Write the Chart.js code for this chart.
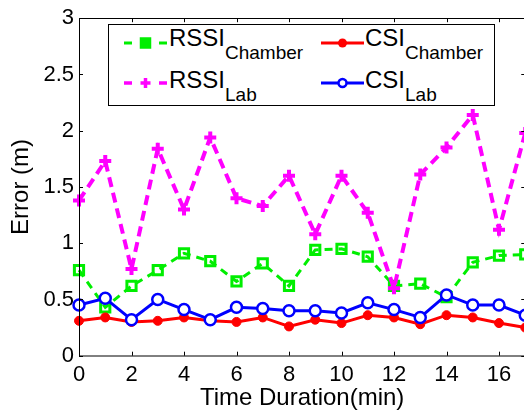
<!DOCTYPE html>
<html><head><meta charset="utf-8">
<script src="https://cdn.jsdelivr.net/npm/chart.js@4.4.1/dist/chart.umd.min.js"></script>
<style>
html,body{margin:0;padding:0;overflow:hidden;background:#fff;}
#wrap{position:relative;width:524px;height:416px;overflow:hidden;background:#fff;}
#c{position:absolute;left:0;top:0;}
#legend{position:absolute;left:108px;top:24px;width:387px;height:82px;box-sizing:border-box;border:1px solid #000;background:#fff;font-family:"Liberation Sans",Arial,sans-serif;color:#000;}
#legend svg{position:absolute;overflow:visible;}
.lab{position:absolute;font-size:24px;line-height:24px;white-space:nowrap;}
.lab sub{font-size:19px;vertical-align:baseline;position:relative;top:13px;}
</style>
</head><body>
<div id="wrap">
<canvas id="c" width="540" height="416" style="width:540px;height:416px"></canvas>
<div id="legend">
  <svg style="left:15px;top:10px" width="43" height="16">
    <line x1="0" y1="8" x2="8" y2="8" stroke="#00ee00" stroke-width="3"/>
    <line x1="35" y1="8" x2="43" y2="8" stroke="#00ee00" stroke-width="3"/>
    <rect x="17" y="3.5" width="9" height="9" fill="#00ee00" stroke="#00ee00" stroke-width="2.5"/>
  </svg>
  <div class="lab" style="left:60px;top:1px">RSSI<sub>Chamber</sub></div>
  <svg style="left:15px;top:50px" width="43" height="16">
    <line x1="0" y1="8" x2="8" y2="8" stroke="#ff00ff" stroke-width="3.5"/>
    <line x1="35" y1="8" x2="43" y2="8" stroke="#ff00ff" stroke-width="3.5"/>
    <line x1="16.5" y1="8" x2="26.5" y2="8" stroke="#ff00ff" stroke-width="3.5"/>
    <line x1="21.5" y1="3" x2="21.5" y2="13" stroke="#ff00ff" stroke-width="3.5"/>
  </svg>
  <div class="lab" style="left:60px;top:43px">RSSI<sub>Lab</sub></div>
  <svg style="left:212px;top:10px" width="43" height="16">
    <line x1="0" y1="8" x2="43" y2="8" stroke="#ff0000" stroke-width="3"/>
    <circle cx="21.5" cy="8" r="4.5" fill="#ff0000"/>
  </svg>
  <div class="lab" style="left:256px;top:1px">CSI<sub>Chamber</sub></div>
  <svg style="left:212px;top:50px" width="43" height="16">
    <line x1="0" y1="8" x2="43" y2="8" stroke="#0000ff" stroke-width="3"/>
    <circle cx="21.5" cy="8" r="4" fill="#fff" stroke="#0000ff" stroke-width="2.5"/>
  </svg>
  <div class="lab" style="left:256px;top:43px">CSI<sub>Lab</sub></div>
</div>
</div>
<script>
const timeMin = [0,1,2,3,4,5,6,7,8,9,10,11,12,13,14,15,16,17];
const rssiChamber = [0.76,0.43,0.62,0.76,0.91,0.84,0.66,0.82,0.62,0.94,0.95,0.88,0.62,0.64,0.52,0.83,0.89,0.90];
const rssiLab = [1.38,1.73,0.77,1.84,1.30,1.94,1.40,1.33,1.60,1.08,1.60,1.27,0.60,1.61,1.85,2.14,1.12,1.98];
const csiChamber = [0.31,0.34,0.30,0.31,0.34,0.31,0.30,0.34,0.26,0.32,0.29,0.36,0.34,0.28,0.36,0.34,0.29,0.25];
const csiLab = [0.45,0.51,0.32,0.50,0.41,0.32,0.43,0.42,0.40,0.40,0.38,0.47,0.41,0.34,0.54,0.45,0.45,0.36];
const xTicks = [0,2,4,6,8,10,12,14,16];
const yTicks = [0,0.5,1,1.5,2,2.5,3];

const pts = arr => arr.map((v,i)=>({x:timeMin[i], y:v}));
const FONT = '"Liberation Sans", Arial, sans-serif';

const framePlugin = {
  id:'frame',
  afterDatasetsDraw(chart){
    const {ctx, chartArea:a, scales:{x,y}} = chart;
    ctx.save();
    ctx.strokeStyle='#000'; ctx.lineWidth=1;
    ctx.beginPath();
    ctx.rect(Math.round(a.left)+0.5, Math.round(a.top)+0.5, a.right-a.left, a.bottom-a.top);
    ctx.stroke();
    const L=4;
    ctx.beginPath();
    xTicks.forEach(v=>{
      const px=Math.round(x.getPixelForValue(v))+0.5;
      ctx.moveTo(px,a.bottom); ctx.lineTo(px,a.bottom-L);
      ctx.moveTo(px,a.top); ctx.lineTo(px,a.top+L);
    });
    yTicks.forEach(v=>{
      const py=Math.round(y.getPixelForValue(v))+0.5;
      ctx.moveTo(a.left,py); ctx.lineTo(a.left+L,py);
      ctx.moveTo(a.right,py); ctx.lineTo(a.right-L,py);
    });
    ctx.stroke();
    ctx.restore();
  }
};

new Chart(document.getElementById('c'), {
  type:'line',
  data:{datasets:[
    {label:'CSI_Lab', data:pts(csiLab), borderColor:'#0000ff', backgroundColor:'#ffffff', borderWidth:3,
     pointStyle:'circle', pointRadius:5.5, pointBorderWidth:2.5, pointBorderColor:'#0000ff', pointBackgroundColor:'#ffffff', order:0},
    {label:'RSSI_Lab', data:pts(rssiLab), borderColor:'#ff00ff', borderWidth:4, borderDash:[10,6],
     pointStyle:'cross', pointRadius:6, pointBorderWidth:4, pointBorderColor:'#ff00ff', order:1},
    {label:'CSI_Chamber', data:pts(csiChamber), borderColor:'#ff0000', backgroundColor:'#ff0000', borderWidth:3,
     pointStyle:'circle', pointRadius:4.5, pointBorderWidth:1, pointBorderColor:'#ff0000', pointBackgroundColor:'#ff0000', order:2},
    {label:'RSSI_Chamber', data:pts(rssiChamber), borderColor:'#00ee00', borderWidth:3, borderDash:[8,6],
     pointStyle:'rect', pointRadius:6.5, pointBorderWidth:3, pointBorderColor:'#00ee00', pointBackgroundColor:'rgba(0,0,0,0)', order:3}
  ]},
  options:{
    responsive:false, animation:false, devicePixelRatio:1,
    clip:false,
    layout:{padding:{left:0, top:14, right:540-525.25, bottom:0}},
    plugins:{legend:{display:false}, tooltip:{enabled:false}},
    elements:{line:{tension:0, fill:false}},
    scales:{
      x:{type:'linear', min:0, max:17,
        grid:{display:false, drawTicks:false}, border:{display:false},
        afterBuildTicks(s){ s.ticks = xTicks.map(v=>({value:v})); },
        afterFit(s){ s.height = 416-355.7; },
        ticks:{color:'#000', font:{family:FONT, size:22}, padding:6, maxRotation:0, callback:v=>String(v)},
        title:{display:true, text:'Time Duration(min)', color:'#000', font:{family:FONT, size:24}, padding:{top:0,bottom:3}}
      },
      y:{type:'linear', min:0, max:3,
        grid:{display:false, drawTicks:false}, border:{display:false},
        afterBuildTicks(s){ s.ticks = yTicks.map(v=>({value:v})); },
        afterFit(s){ s.width = 79; },
        ticks:{color:'#000', font:{family:FONT, size:22}, padding:5, callback:v=>String(v)},
        title:{display:true, text:'Error (m)', color:'#000', font:{family:FONT, size:24}, padding:{top:7,bottom:0}}
      }
    }
  },
  plugins:[framePlugin]
});
</script>
</body></html>
